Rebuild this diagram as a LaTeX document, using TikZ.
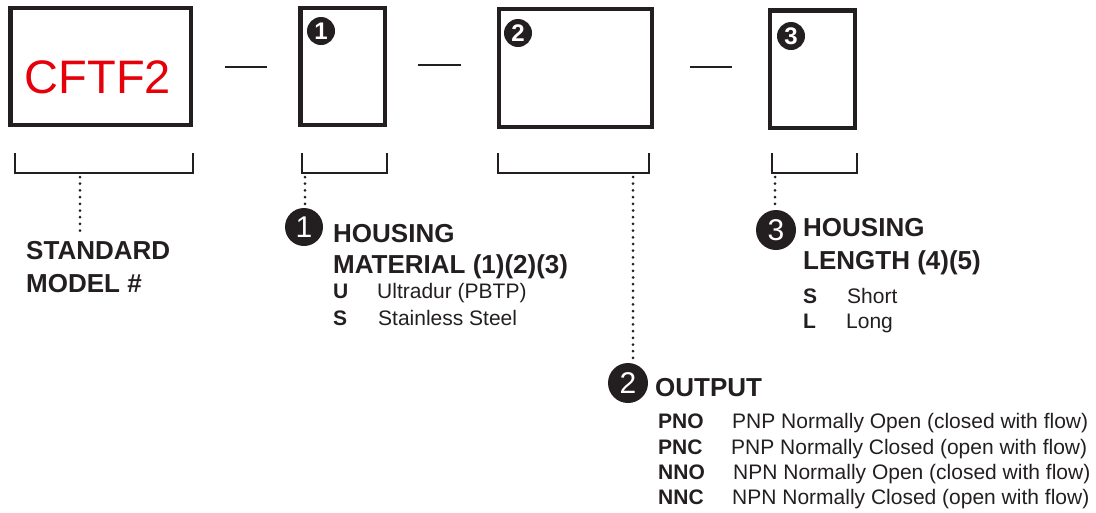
\documentclass[tikz,border=0pt]{standalone}
\usepackage{fontspec}
\setmainfont{Liberation Sans}
\definecolor{ink}{RGB}{35,31,32}
\definecolor{cred}{RGB}{230,0,10}
\tikzset{
  box/.style={draw=ink, line width=4.5pt, fill=white, inner sep=0pt},
  bracketline/.style={draw=ink, line width=2pt},
  dashline/.style={draw=ink, line width=2pt},
  dotline/.style={draw=ink, line width=3pt, dash pattern=on 0pt off 6.7pt, line cap=round},
  smallnum/.style={circle, fill=ink, text=white, inner sep=0pt, minimum size=28pt, font=\bfseries\fontsize{24}{24}\selectfont},
  bignum/.style={circle, fill=ink, text=white, inner sep=0pt, font=\fontsize{30}{30}\selectfont},
  head/.style={anchor=base west, inner sep=0pt, text=ink, font=\bfseries\fontsize{26}{26}\selectfont},
  code/.style={anchor=base west, inner sep=0pt, text=ink, font=\bfseries\fontsize{21}{21}\selectfont},
  desc/.style={anchor=base west, inner sep=0pt, text=ink, font=\fontsize{21}{21}\selectfont},
}
\begin{document}
\begin{tikzpicture}[x=1pt,y=-1pt]
\useasboundingbox (0,0) rectangle (1096,512);
% boxes
\node[box, minimum width=180.3pt, minimum height=117pt] (b0) at (100.65,66.5) {};
\node[box, minimum width=84.5pt, minimum height=117pt] (b1) at (342.75,66.5) {};
\node[box, minimum width=153pt, minimum height=118pt] (b2) at (575.5,68) {};
\node[box, minimum width=85pt, minimum height=117.5pt] (b3) at (812.5,69.25) {};
\node[anchor=base, inner sep=0pt, text=cred, font=\fontsize{47}{47}\selectfont] (model) at (98,93) {CFTF2};
\node[smallnum] (s1) at (321,31) {1};
\node[smallnum] (s2) at (518,33) {2};
\node[smallnum] (s3) at (791,36) {3};
% dashes
\coordinate (d1a) at (225,66.5); \coordinate (d1b) at (267,66.5);
\coordinate (d2a) at (418,65); \coordinate (d2b) at (461,65);
\coordinate (d3a) at (690,66.5); \coordinate (d3b) at (732,66.5);
\draw[dashline] (d1a) -- (d1b);
\draw[dashline] (d2a) -- (d2b);
\draw[dashline] (d3a) -- (d3b);
% brackets
\draw[bracketline] (15.3,153) |- (192.7,172.7) -- (192.7,153);
\draw[bracketline] (301.7,153) |- (386.7,172.7) -- (386.7,153);
\draw[bracketline] (497.7,153) |- (648.7,172.7) -- (648.7,153);
\draw[bracketline] (771.7,153) |- (856.7,172.7) -- (856.7,153);
\coordinate (k0) at (80,177);
\coordinate (k1) at (305,177);
\coordinate (k2) at (633,177);
\coordinate (k3) at (775,177);
% standard model
\node[head] (std1) at (26,259) {STANDARD};
\node[head] (std2) at (26,292) {MODEL \#};
\coordinate (std) at (80,233);
\draw[dotline] (k0) -- (std);
% item 1
\node[bignum, minimum size=38pt] (n1) at (304,227) {1};
\node[head] (h1a) at (333,242) {HOUSING};
\node[head] (h1b) at (333,273) {MATERIAL (1)(2)(3)};
\node[code] (u) at (333,298) {U};
\node[desc] (ud) at (377,298) {Ultradur (PBTP)};
\node[code] (s) at (333,325) {S};
\node[desc] (sd) at (378,325) {Stainless Steel};
\draw[dotline] (k1) -- (k1 |- n1.north);
% item 3
\node[bignum, minimum size=40pt] (n3) at (776,230) {3};
\node[head] (h3a) at (803,236) {HOUSING};
\node[head] (h3b) at (803,269) {LENGTH (4)(5)};
\node[code] (sh) at (803,303) {S};
\node[desc] (shd) at (847,303) {Short};
\node[code] (lo) at (803,328) {L};
\node[desc] (lod) at (846,328) {Long};
\draw[dotline] (k3) -- (k3 |- n3.north);
% item 2
\node[bignum, minimum size=40pt] (n2) at (628,383) {2};
\node[head] (h2) at (655,396) {OUTPUT};
\node[code] (pno) at (658,428) {PNO};
\node[desc] (pnod) at (732,428) {PNP Normally Open (closed with flow)};
\node[code] (pnc) at (658,454) {PNC};
\node[desc] (pncd) at (731,454) {PNP Normally Closed (open with flow)};
\node[code] (nno) at (658,479) {NNO};
\node[desc] (nnod) at (733,479) {NPN Normally Open (closed with flow)};
\node[code] (nnc) at (658,504) {NNC};
\node[desc] (nncd) at (732,504) {NPN Normally Closed (open with flow)};
\coordinate (e2) at (633,361);
\draw[dotline] (k2) -- (e2);
\end{tikzpicture}
\end{document}
